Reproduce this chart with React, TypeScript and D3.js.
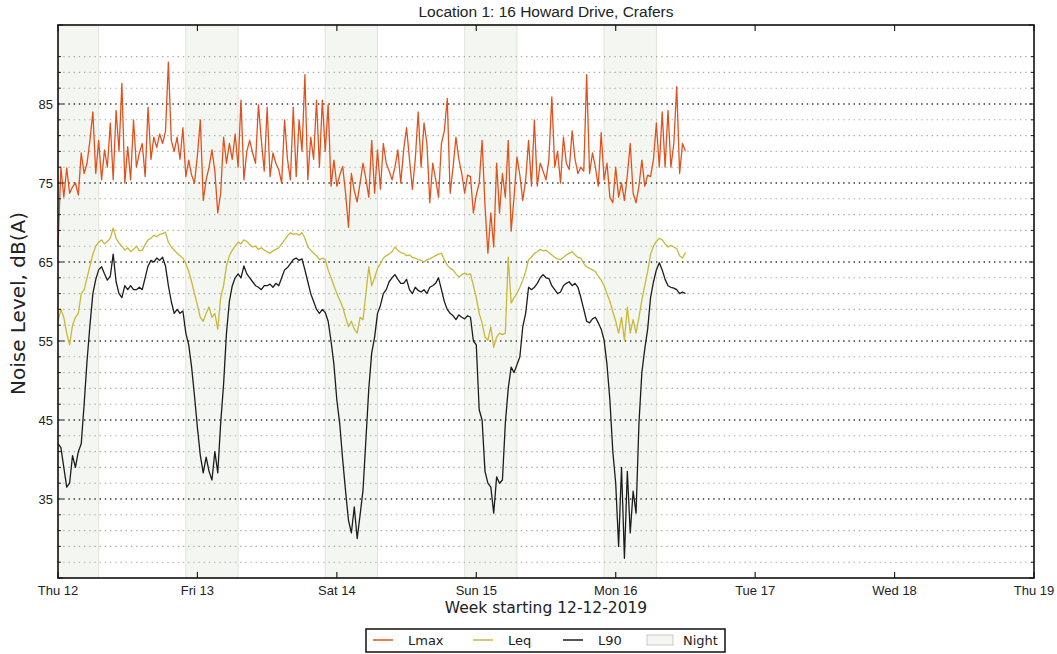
import React from 'react';
import * as d3 from 'd3';

// chart text
const title = 'Location 1: 16 Howard Drive, Crafers';
const xLabel = 'Week starting 12-12-2019';
const yLabel = 'Noise Level, dB(A)';
const dayLabels = ['Thu 12', 'Fri 13', 'Sat 14', 'Sun 15', 'Mon 16', 'Tue 17', 'Wed 18', 'Thu 19'];
const yTickLabels = [35, 45, 55, 65, 75, 85];

// night periods, hours from Thu 12 00:00
const nightPeriods: [number, number][] = [[-2, 7], [22, 31], [46, 55], [70, 79], [94, 103]];

// readings every 30 min from Thu 12 00:00
const stepHours = 0.5;

const lmax = [
  67, 77, 73.2, 76.9, 73.7, 74.5, 75, 73.5, 78.8, 76.2, 77.5, 80.4,
  84, 76.2, 80.4, 75.4, 79.2, 77, 82.6, 75.4, 84.2, 79, 87.6, 75,
  79.6, 75.4, 83, 77, 78.8, 80, 75.8, 84.6, 78, 80.8, 79.5, 81.2,
  80, 81.5, 90.3, 80.4, 79, 80.8, 78, 82, 75.8, 77.9, 76, 75,
  78.5, 83, 72.8, 75.4, 77, 79.2, 76.5, 71.2, 73.7, 80.8, 77.5, 80,
  78, 81.2, 77, 85.5, 75.4, 79, 80.4, 78.8, 77.5, 84.9, 80.4, 76.5,
  84.6, 75.8, 78.8, 77.5, 76.7, 75, 83, 78, 75.4, 84.6, 75.8, 83,
  79, 88.7, 75.4, 80.8, 78, 85.5, 77, 85.5, 79, 84.9, 74.6, 77.9,
  74.6, 76, 77.1, 73.7, 69.4, 76.2, 74, 72.6, 75, 77.5, 75.5, 73.2,
  80.4, 73.7, 79.2, 74.2, 80, 77.5, 76.5, 75.4, 77, 79.2, 75, 79.2,
  82, 78, 74.2, 78, 84, 77, 82.6, 80, 72.5, 77.5, 75.5, 73.2,
  80, 81.6, 85.7, 73.7, 77, 80.8, 78, 76.2, 73.7, 76, 75.8, 71.2,
  73.5, 75, 80.4, 72.1, 66.1, 71.2, 66.9, 77.5, 71.2, 76.2, 73.2, 80.4,
  68.9, 73.2, 78.3, 76, 72.8, 75.4, 80.4, 74.6, 83, 74.6, 77.5, 76.5,
  75.4, 78, 85.9, 77, 79, 75, 80.8, 77.5, 76.7, 81.6, 78, 76.2,
  77, 76.5, 88.7, 76.2, 78.8, 77, 74.6, 81.4, 75.4, 77.5, 73.2, 72.5,
  77, 73.2, 75, 72.8, 76, 80, 73.7, 72.5, 74.6, 77.9, 74.6, 76,
  75.8, 78, 82.6, 77, 84, 77, 84.2, 77, 80, 87.2, 76.2, 80,
  79,
];

const leq = [
  57.5, 59, 58, 56, 54.5, 57, 58, 58.5, 61, 61.5, 63, 64.5,
  66, 67, 67.5, 67.8, 67.3, 67.6, 68, 69.3, 68, 67.4, 67, 66.5,
  66.8, 66.3, 66.6, 67, 66.4, 66.5, 67.2, 67.8, 68, 68.4, 68.2, 68.5,
  68.6, 68.8, 67.5, 66.9, 66.5, 66.1, 65.8, 65.5, 64.8, 63.8, 62.5, 61,
  59.5, 58, 57.5, 58.5, 59.3, 58, 58.5, 56.5, 60.5, 62, 64.5, 65.8,
  66.5, 67, 67.5, 67.3, 67.8, 67.6, 67.2, 66.9, 67, 66.6, 66.8, 66.5,
  66.3, 66.1, 66.4, 66.6, 66.8, 67.3, 67.8, 68.3, 68.7, 68.5, 68.6, 68.4,
  68.7, 68, 66.9, 66.5, 66.1, 65.8, 65.3, 65.5, 65.3, 64, 63, 62,
  61, 60.2, 59.3, 58, 56.8, 57.5, 56.5, 56, 58, 57.7, 61, 64.4,
  62, 63, 64.2, 64.8, 65.5, 65.8, 66, 66.3, 66.9, 66.5, 66.2, 66.1,
  65.8, 65.9, 65.6, 65.5, 65.3, 65.2, 65, 65.3, 65.4, 65.6, 65.8, 66,
  66.1, 65.3, 64.6, 64.2, 64, 63.5, 63.1, 63.4, 63.6, 63.4, 63.5, 62,
  60.5, 58.5, 57.3, 55.5, 55.1, 56.8, 54.2, 55.5, 56, 55.8, 56, 65.6,
  59.8, 60.5, 61, 61.8, 62.7, 63.8, 65.3, 65.6, 66.1, 66.3, 66.6, 66.4,
  66.5, 66.2, 65.9, 65.6, 65.4, 65.3, 65.6, 65.9, 66.1, 66.3, 65.9, 65.6,
  65.5, 64.8, 64.4, 64.2, 64, 63.8, 63.2, 62.7, 62, 61, 60, 58.7,
  57.5, 56, 58, 55.1, 59.3, 56, 57.7, 56, 58, 60.2, 62, 63.8,
  66, 67, 67.6, 68, 67.8, 67.3, 66.9, 67.1, 66.9, 66.7, 65.8, 65.5,
  66.2,
];

const l90 = [
  42, 41.5, 39, 36.5, 37, 40.5, 39, 41, 42, 47, 52.5, 57,
  61, 62.8, 64, 64.4, 63.5, 62.7, 63.2, 66, 62.5, 61, 60.5, 62,
  61.5, 62, 61.5, 61.5, 61.8, 61.5, 63, 64.5, 65.2, 65, 65.5, 65.2,
  65.6, 64.5, 62, 60, 58.5, 59, 58.5, 58.8, 56, 54.5, 51.7, 48,
  44, 40.5, 38.3, 40.3, 38.5, 37.4, 41, 38.3, 44.6, 49.5, 56, 60,
  62, 63, 63.5, 63, 64.5, 63.5, 63, 62.5, 62, 61.8, 61.5, 62,
  62, 62.2, 61.8, 62.3, 62, 63, 64, 64.3, 64.8, 65.3, 65.5, 65.2,
  65.4, 64, 62.5, 61, 60, 59, 58.5, 59, 58.6, 57.5, 55, 52,
  47.5, 44.5, 40, 36, 32.3, 30.7, 34, 30, 33, 36.1, 42.5, 49,
  53.5, 55.5, 58.5, 59.5, 61, 61.5, 62.5, 63, 63.4, 62.8, 62.3, 62.3,
  62.8, 61.5, 61, 61.8, 61.4, 61.2, 61.5, 61, 61.8, 62, 62.3, 63,
  61.5, 60, 59, 58.5, 58.2, 57.7, 58.3, 58, 57.8, 58.2, 58, 55,
  54.5, 46.3, 45, 38.5, 37, 36.5, 33.2, 37.8, 37, 37.4, 44.6, 49,
  51.7, 51, 52, 53, 56.8, 58.5, 61.8, 61.5, 61.8, 62.3, 63, 63.4,
  63, 62.9, 62, 61.5, 61, 61.2, 62, 62.3, 62.5, 62, 62.3, 61.8,
  60.5, 59, 57.5, 57.3, 57.8, 58, 57.3, 56.5, 55.1, 52, 47.5, 41,
  37, 29, 39, 27.5, 38.5, 30.7, 36, 33.2, 44.6, 51, 54, 56.5,
  60.5, 62.5, 64, 64.9, 64, 62.8, 62, 61.8, 61.7, 61.5, 61, 61.2,
  61,
];

const series = [
  { name: 'Lmax', values: lmax, color: '#e0521d' },
  { name: 'Leq', values: leq, color: '#c8b838' },
  { name: 'L90', values: l90, color: '#1c1c1c' },
];

const W = 1057;
const H = 654;
const margin = { top: 25, right: 23, bottom: 76, left: 58 };
const sans = '"Liberation Sans", Arial, sans-serif';
const deja = '"DejaVu Sans", Verdana, sans-serif';

const App = () => {
  const x = d3.scaleLinear().domain([0, 168]).range([margin.left, W - margin.right]);
  const y = d3.scaleLinear().domain([25, 95]).range([H - margin.bottom, margin.top]);
  const [x0, x1] = x.range();
  const [yb, yt] = y.range();

  const gridValues = d3.range(27, 93, 2);
  const isMajor = (v: number) => (v - 25) % 10 === 0;

  const line = d3
    .line<number>()
    .x((_, i) => x(i * stepHours))
    .y((d) => y(d));

  const legendY = 640;

  return (
    <svg width={W} height={H} style={{ position: 'absolute', left: 0, top: 0, background: '#fff' }}>
      {/* title */}
      <text x={(x0 + x1) / 2} y={17} textAnchor="middle" fontFamily={sans} fontSize={15.5} fill="#222">
        {title}
      </text>

      {/* night bands */}
      {nightPeriods.map(([s, e], i) => {
        const a = x(Math.max(0, s));
        const b = x(Math.min(168, e));
        return (
          <rect key={i} x={a} y={yt} width={b - a} height={yb - yt} fill="#f4f7f1" stroke="#dfe4da" strokeWidth={1} />
        );
      })}

      {/* horizontal grid */}
      {gridValues.map((v) => (
        <line
          key={v}
          x1={x0}
          x2={x1}
          y1={y(v)}
          y2={y(v)}
          stroke={isMajor(v) ? '#333' : '#aaa'}
          strokeWidth={isMajor(v) ? 1.4 : 1.1}
          strokeDasharray="1.4,3.8"
        />
      ))}

      {/* series */}
      {series.map((s) => (
        <path key={s.name} d={line(s.values) || ''} fill="none" stroke={s.color} strokeWidth={1.3} strokeLinejoin="round" />
      ))}

      {/* y ticks both sides */}
      {gridValues.concat([25, 95]).map((v) => {
        const len = isMajor(v) ? 5 : 3;
        return (
          <g key={'yt' + v}>
            <line x1={x0} x2={x0 + len} y1={y(v)} y2={y(v)} stroke="#222" strokeWidth={1} />
            <line x1={x1} x2={x1 - len} y1={y(v)} y2={y(v)} stroke="#222" strokeWidth={1} />
          </g>
        );
      })}

      {/* x ticks top and bottom */}
      {dayLabels.map((lab, i) => (
        <g key={lab}>
          <line x1={x(i * 24)} x2={x(i * 24)} y1={yb} y2={yb - 6} stroke="#222" strokeWidth={1.2} />
          <line x1={x(i * 24)} x2={x(i * 24)} y1={yt} y2={yt + 6} stroke="#222" strokeWidth={1.2} />
          <text x={x(i * 24)} y={yb + 17} textAnchor="middle" fontFamily={sans} fontSize={13} fill="#222">
            {lab}
          </text>
        </g>
      ))}

      {/* y tick labels */}
      {yTickLabels.map((v) => (
        <text key={v} x={x0 - 5} y={y(v)} dy="0.35em" textAnchor="end" fontFamily={sans} fontSize={13} fill="#222">
          {v}
        </text>
      ))}

      {/* frame */}
      <rect x={x0} y={yt} width={x1 - x0} height={yb - yt} fill="none" stroke="#111" strokeWidth={1.6} />

      {/* axis labels */}
      <text x={(x0 + x1) / 2} y={613} textAnchor="middle" fontFamily={deja} fontSize={15.5} fill="#222">
        {xLabel}
      </text>
      <text
        transform={`translate(25,${(yt + yb) / 2 + 2}) rotate(-90)`}
        textAnchor="middle"
        fontFamily={deja}
        fontSize={20}
        fill="#222"
      >
        {yLabel}
      </text>

      {/* legend */}
      <g>
        <rect x={366} y={629} width={359} height={23} fill="#fff" stroke="#111" strokeWidth={1.5} />
        {series.map((s, i) => {
          const lx = [373, 473, 563][i];
          return (
            <g key={s.name}>
              <line x1={lx} x2={lx + 20} y1={legendY} y2={legendY} stroke={s.color} strokeWidth={1.5} />
              <text x={lx + 35} y={legendY} dy="0.36em" fontFamily={deja} fontSize={13} fill="#222">
                {s.name}
              </text>
            </g>
          );
        })}
        <rect x={647} y={635} width={26} height={10} fill="#f4f7f1" stroke="#c8ccc4" strokeWidth={1} />
        <text x={683} y={legendY} dy="0.36em" fontFamily={deja} fontSize={13} fill="#222">
          Night
        </text>
      </g>
    </svg>
  );
};

export default App;
